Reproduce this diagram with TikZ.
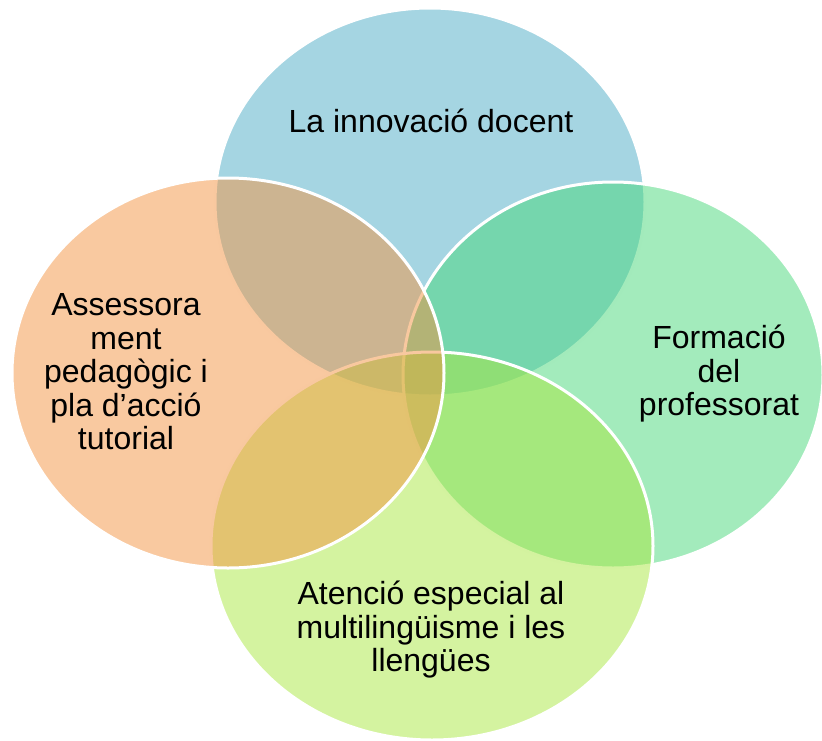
\documentclass[tikz,border=0pt]{standalone}
\usepackage{fontspec}
\setmainfont{Liberation Sans}
\usetikzlibrary{shapes.geometric}
\definecolor{innovblue}{RGB}{75,171,197}
\definecolor{formgreen}{RGB}{71,215,121}
\definecolor{multigreen}{RGB}{169,231,65}
\definecolor{tutorange}{RGB}{243,147,65}
\begin{document}
\begin{tikzpicture}[x=1pt,y=-1pt,
        bubble/.style={ellipse,draw=white,line width=3pt,fill opacity=0.5,inner sep=0pt},
        txt/.style={align=center,font=\fontsize{32}{33.5}\selectfont,inner sep=0pt}]
        \useasboundingbox (0,0) rectangle (822,740);
        \node[bubble,fill=innovblue,minimum width=430pt,minimum height=388pt] (innov) at (430,202) {};
        \node[bubble,fill=formgreen,minimum width=420pt,minimum height=386pt] (form) at (613,375) {};
        \node[bubble,fill=multigreen,minimum width=442pt,minimum height=388pt] (multi) at (432,546) {};
        \node[bubble,fill=tutorange,minimum width=432pt,minimum height=390pt] (tut) at (228,373) {};
        \node[txt] (innovtxt) at (431,121) {La innovació docent};
        \node[txt] (tuttxt) at (126,372) {Assessora\\ment\\pedagògic i\\pla d’acció\\tutorial};
        \node[txt] (formtxt) at (719,374) {Formació\\del\\professorat};
        \node[txt] (multitxt) at (431,630) {Atenció especial al\\multilingüisme i les\\llengües};
    \end{tikzpicture}
\end{document}
